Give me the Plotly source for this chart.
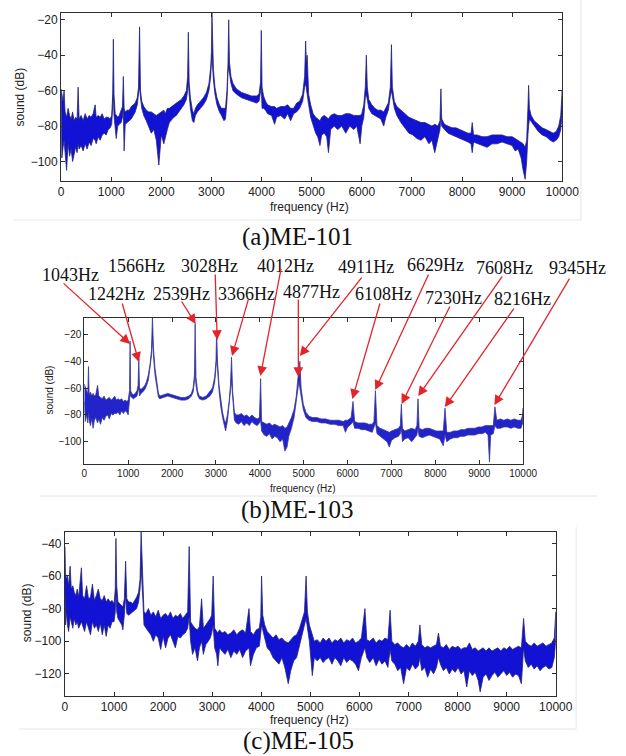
import plotly.graph_objects as go

# ---------------- (a) ME-101 : frequency (Hz), upper / lower envelope of trace (dB)
freq_a = [0, 15, 40, 60, 80, 110, 140, 170, 200, 230,
          260, 290, 320, 340, 360, 400, 440, 480, 520, 560,
          600, 640, 680, 700, 740, 780, 820, 860, 900, 940,
          980, 1010, 1030, 1043, 1056, 1080, 1100, 1130, 1160, 1200,
          1225, 1242, 1258, 1280, 1320, 1360, 1400, 1440, 1480, 1520,
          1545, 1566, 1585, 1610, 1650, 1700, 1750, 1800, 1850, 1900,
          1950, 2000, 2050, 2080, 2120, 2160, 2200, 2250, 2300, 2350,
          2400, 2450, 2500, 2525, 2539, 2555, 2580, 2620, 2650, 2680,
          2720, 2780, 2840, 2900, 2950, 2985, 3000, 3010, 3025, 3040,
          3070, 3110, 3160, 3200, 3250, 3280, 3310, 3330, 3345, 3360,
          3390, 3430, 3500, 3600, 3700, 3800, 3900, 3950, 3980, 3995,
          4010, 4040, 4080, 4120, 4200, 4260, 4300, 4380, 4460, 4520,
          4580, 4640, 4700, 4760, 4820, 4860, 4880, 4895, 4910, 4940,
          4980, 5030, 5080, 5120, 5166, 5200, 5250, 5300, 5335, 5380,
          5450, 5520, 5600, 5680, 5760, 5840, 5900, 5967, 6000, 6040,
          6070, 6091, 6110, 6140, 6200, 6260, 6320, 6380, 6438, 6480,
          6530, 6570, 6592, 6610, 6650, 6700, 6780, 6860, 6940, 7020,
          7100, 7180, 7260, 7340, 7400, 7456, 7520, 7560, 7579, 7595,
          7650, 7720, 7800, 7880, 7960, 8040, 8120, 8180, 8204, 8230,
          8300, 8400, 8500, 8600, 8700, 8800, 8900, 9000, 9060, 9120,
          9180, 9220, 9260, 9290, 9315, 9329, 9345, 9380, 9440, 9520,
          9600, 9680, 9760, 9820, 9880, 9930, 9970, 10000]
upper_a = [-59, -62, -66, -60, -72, -75, -70, -74, -76, -72,
           -77, -75, -76, -58, -76, -74, -77, -73, -76, -74,
           -75, -73, -68, -75, -74, -75, -73, -76, -75, -75,
           -76, -74, -62, -31, -62, -73, -74, -75, -74, -71,
           -69, -52, -70, -72, -71, -71, -69, -68, -67, -64,
           -58, -24, -60, -66, -69, -71, -72, -72, -73, -74,
           -73, -72, -71, -73, -70, -70, -69, -68, -67, -66,
           -65, -63, -60, -52, -27, -55, -64, -71, -73, -70,
           -68, -66, -64, -61, -56, -47, -38, -16, -30, -48,
           -58, -64, -68, -70, -70, -70, -60, -45, -20, -44,
           -52, -56, -59, -61, -62, -63, -63, -62, -55, -26,
           -58, -63, -66, -68, -69, -69, -70, -69, -69, -68,
           -70, -70, -67, -66, -62, -52, -32, -45, -40, -62,
           -68, -73, -75, -76, -77, -75, -74, -75, -76, -74,
           -73, -74, -74, -73, -73, -74, -74, -74, -73, -68,
           -58, -40, -58, -65, -68, -70, -71, -71, -72, -70,
           -67, -58, -34, -58, -66, -69, -71, -73, -75, -76,
           -77, -78, -78, -79, -80, -79, -80, -77, -59, -76,
           -79, -80, -81, -81, -82, -83, -84, -84, -78, -85,
           -85, -86, -86, -85, -85, -85, -86, -86, -87, -88,
           -89, -90, -92, -88, -70, -57, -70, -74, -77, -79,
           -81, -82, -83, -84, -83, -80, -74, -60]
lower_a = [-66, -98, -92, -88, -95, -105, -90, -97, -93, -100,
           -96, -92, -95, -90, -93, -91, -94, -90, -93, -89,
           -91, -87, -88, -90, -86, -88, -85, -84, -85, -82,
           -81, -79, -72, -62, -74, -82, -87, -80, -79, -78,
           -75, -70, -94, -79, -78, -77, -76, -74, -72, -68,
           -62, -58, -64, -70, -74, -77, -80, -84, -82, -88,
           -102, -85, -90, -86, -82, -78, -77, -75, -74, -72,
           -70, -68, -65, -60, -55, -62, -70, -77, -78, -74,
           -72, -70, -68, -65, -60, -52, -44, -40, -45, -54,
           -62, -68, -72, -74, -77, -76, -66, -50, -47, -50,
           -56, -60, -62, -64, -65, -66, -67, -66, -60, -58,
           -70, -70, -71, -73, -74, -79, -75, -74, -76, -73,
           -77, -73, -72, -70, -66, -58, -56, -60, -62, -68,
           -75, -80, -84, -86, -91, -85, -84, -86, -95, -82,
           -80, -82, -80, -84, -80, -82, -80, -90, -80, -75,
           -64, -62, -64, -70, -73, -74, -75, -76, -80, -75,
           -71, -63, -60, -63, -70, -74, -78, -81, -84, -85,
           -87, -88, -86, -90, -88, -95, -87, -82, -75, -80,
           -82, -84, -85, -86, -87, -88, -89, -90, -95, -89,
           -90, -91, -92, -90, -90, -89, -90, -91, -94, -93,
           -98, -105, -110, -100, -85, -80, -76, -78, -80, -83,
           -85, -86, -88, -89, -88, -86, -82, -72]

# ---------------- (b) ME-103
freq_b = [0, 20, 50, 80, 95, 110, 140, 170, 200, 230,
          260, 302, 330, 370, 410, 450, 490, 530, 570, 610,
          650, 690, 730, 770, 810, 850, 890, 930, 970, 1000,
          1030, 1043, 1056, 1080, 1120, 1160, 1200, 1225, 1242, 1258,
          1290, 1330, 1380, 1420, 1460, 1500, 1530, 1553, 1575, 1610,
          1650, 1690, 1720, 1800, 1900, 2000, 2100, 2200, 2300, 2380,
          2440, 2480, 2510, 2525, 2545, 2580, 2620, 2700, 2780, 2860,
          2920, 2970, 3000, 3015, 3035, 3070, 3110, 3150, 3190, 3220,
          3260, 3300, 3330, 3355, 3380, 3420, 3460, 3520, 3580, 3640,
          3700, 3760, 3820, 3880, 3940, 3990, 4018, 4040, 4100, 4160,
          4220, 4280, 4340, 4400, 4460, 4520, 4570, 4620, 4660, 4720,
          4780, 4830, 4870, 4890, 4911, 4940, 4990, 5050, 5120, 5200,
          5300, 5400, 5500, 5600, 5700, 5800, 5900, 5950, 6000, 6080,
          6123, 6160, 6240, 6320, 6400, 6480, 6560, 6600, 6634, 6670,
          6740, 6820, 6900, 6950, 7000, 7080, 7160, 7200, 7225, 7250,
          7300, 7380, 7460, 7540, 7580, 7604, 7630, 7700, 7780, 7860,
          7940, 8020, 8100, 8180, 8220, 8260, 8340, 8420, 8500, 8580,
          8660, 8740, 8820, 8900, 8980, 9060, 9140, 9200, 9233, 9260,
          9320, 9357, 9400, 9480, 9560, 9640, 9720, 9800, 9880, 9950,
          9990, 10000]
upper_b = [-57, -60, -62, -64, -44, -65, -63, -66, -64, -66,
           -65, -58, -66, -67, -68, -66, -69, -68, -67, -69,
           -68, -66, -69, -68, -69, -68, -70, -69, -70, -69,
           -62, -25, -62, -64, -65, -64, -62, -58, -38, -60,
           -61, -60, -58, -55, -50, -42, -32, -6, -30, -45,
           -56, -64, -66, -65, -64, -65, -66, -67, -67, -66,
           -64, -60, -50, -12, -52, -62, -66, -67, -66, -63,
           -60, -52, -40, -17, -40, -58, -70, -78, -84, -86,
           -80, -70, -58, -37, -62, -78, -80, -80, -79, -81,
           -80, -82, -80, -82, -83, -82, -53, -85, -86, -87,
           -86, -88, -87, -88, -89, -88, -90, -89, -86, -82,
           -76, -66, -52, -48, -40, -60, -72, -78, -81, -82,
           -82, -83, -83, -84, -84, -84, -85, -84, -84, -82,
           -70, -85, -86, -86, -86, -87, -87, -85, -62, -88,
           -90, -91, -92, -93, -92, -91, -90, -88, -72, -90,
           -92, -91, -90, -91, -88, -68, -90, -91, -90, -90,
           -91, -92, -92, -92, -75, -93, -93, -92, -92, -91,
           -91, -90, -90, -90, -89, -89, -88, -88, -88, -88,
           -88, -74, -84, -83, -84, -83, -84, -83, -84, -84,
           -80, -75]
lower_b = [-70, -85, -80, -86, -78, -84, -88, -83, -90, -84,
           -82, -86, -83, -87, -82, -84, -81, -80, -83, -79,
           -80, -79, -79, -78, -80, -77, -79, -77, -78, -80,
           -70, -64, -66, -67, -68, -67, -66, -62, -60, -66,
           -64, -63, -61, -58, -54, -46, -36, -24, -36, -50,
           -60, -67, -68, -67, -66, -67, -68, -69, -69, -68,
           -66, -63, -55, -48, -58, -65, -68, -69, -68, -66,
           -63, -56, -45, -38, -45, -62, -74, -82, -88, -92,
           -85, -74, -62, -55, -68, -84, -86, -87, -85, -88,
           -86, -88, -85, -87, -88, -86, -84, -92, -95, -96,
           -94, -98, -96, -97, -100, -98, -107, -104, -96, -90,
           -82, -72, -60, -55, -58, -66, -76, -82, -84, -85,
           -85, -86, -86, -87, -87, -88, -88, -93, -89, -87,
           -85, -90, -90, -91, -91, -92, -93, -90, -86, -94,
           -96, -98, -100, -104, -99, -97, -96, -94, -90, -100,
           -98, -97, -100, -97, -95, -90, -96, -97, -96, -95,
           -96, -97, -98, -103, -95, -100, -98, -97, -97, -96,
           -96, -95, -95, -95, -94, -94, -93, -95, -115, -95,
           -94, -88, -90, -90, -89, -89, -90, -89, -90, -90,
           -86, -84]

# labelled resonances of (b) and the dB level each arrow points at
peak_freq_b = [1043, 1242, 1566, 2539, 3028, 3366, 4012, 4877,
               4911, 6108, 6629, 7230, 7608, 8216, 9345]
peak_tip_db_b = [-27.2, -40.6, -7.0, -12.3, -24.2, -36.2, -51.1, -51.8,
                 -36.2, -68.2, -61.5, -71.9, -66.0, -74.2, -72.7]

# ---------------- (c) ME-105
freq_c = [0, 10, 30, 50, 75, 105, 130, 160, 190, 220,
          250, 280, 335, 360, 400, 440, 480, 520, 560, 600,
          640, 680, 720, 760, 800, 840, 880, 920, 960, 1000,
          1025, 1039, 1055, 1080, 1120, 1160, 1180, 1210, 1236, 1260,
          1300, 1340, 1380, 1420, 1460, 1500, 1530, 1552, 1570, 1590,
          1610, 1650, 1700, 1750, 1800, 1850, 1900, 1950, 2000, 2050,
          2100, 2150, 2200, 2250, 2300, 2350, 2400, 2450, 2500, 2531,
          2560, 2600, 2650, 2700, 2740, 2784, 2820, 2870, 2920, 2960,
          2990, 3020, 3050, 3090, 3115, 3150, 3200, 3260, 3320, 3380,
          3440, 3500, 3560, 3620, 3680, 3750, 3780, 3840, 3900, 3960,
          3990, 4006, 4030, 4070, 4120, 4180, 4240, 4300, 4360, 4420,
          4480, 4550, 4600, 4660, 4720, 4780, 4840, 4880, 4913, 4940,
          4980, 5040, 5080, 5140, 5200, 5260, 5320, 5380, 5440, 5500,
          5560, 5620, 5680, 5740, 5800, 5860, 5920, 5980, 6040, 6112,
          6150, 6210, 6280, 6340, 6400, 6460, 6520, 6580, 6625, 6660,
          6720, 6780, 6840, 6900, 6960, 7020, 7080, 7140, 7200, 7232,
          7270, 7330, 7390, 7450, 7510, 7570, 7610, 7650, 7710, 7770,
          7830, 7890, 7950, 8010, 8070, 8130, 8186, 8240, 8300, 8360,
          8420, 8460, 8520, 8580, 8640, 8700, 8760, 8820, 8880, 8940,
          9000, 9060, 9120, 9180, 9240, 9300, 9345, 9380, 9440, 9500,
          9560, 9620, 9680, 9740, 9800, 9860, 9920, 9970, 10000]
upper_c = [-42, -58, -62, -60, -66, -54, -68, -66, -70, -72,
           -68, -73, -55, -72, -74, -66, -74, -73, -65, -75,
           -72, -68, -74, -75, -72, -76, -74, -76, -75, -77,
           -68, -37, -66, -76, -77, -78, -79, -74, -51, -74,
           -76, -76, -77, -75, -73, -70, -62, -33, -48, -68,
           -82, -83, -80, -84, -82, -85, -81, -86, -84, -83,
           -85, -82, -86, -84, -85, -83, -86, -84, -82, -42,
           -88, -90, -92, -93, -91, -74, -92, -90, -88, -86,
           -84, -60, -92, -94, -95, -93, -95, -94, -96, -95,
           -93, -96, -94, -93, -95, -80, -94, -96, -93, -92,
           -85, -60, -84, -90, -94, -96, -98, -96, -99, -98,
           -100, -101, -99, -97, -96, -92, -86, -82, -60, -82,
           -90, -96, -100, -99, -101, -98, -100, -98, -101, -99,
           -100, -98, -101, -99, -100, -98, -101, -100, -98, -80,
           -99, -100, -98, -101, -99, -100, -98, -99, -81, -100,
           -102, -101, -103, -104, -102, -104, -101, -103, -100, -90,
           -102, -104, -103, -104, -103, -102, -95, -103, -104, -102,
           -105, -103, -104, -103, -105, -104, -104, -101, -105, -104,
           -106, -105, -104, -106, -104, -106, -105, -104, -106, -104,
           -105, -103, -105, -104, -103, -104, -86, -100, -102, -103,
           -101, -103, -102, -101, -103, -102, -101, -98, -82]
lower_c = [-70, -90, -82, -90, -94, -85, -88, -92, -86, -90,
           -88, -92, -88, -90, -94, -88, -92, -96, -88, -92,
           -90, -94, -89, -96, -90, -97, -90, -92, -88, -88,
           -82, -70, -82, -86, -88, -90, -93, -84, -72, -83,
           -84, -83, -82, -81, -80, -76, -68, -55, -58, -76,
           -90, -92, -94, -96, -100, -96, -98, -105, -97, -104,
           -98, -96, -100, -104, -97, -98, -96, -95, -92, -85,
           -100, -108, -104, -112, -104, -100, -108, -102, -100, -98,
           -95, -90, -104, -108, -115, -104, -106, -108, -105, -110,
           -106, -108, -105, -110, -106, -104, -115, -108, -104, -103,
           -95, -90, -92, -98, -104, -106, -110, -112, -114, -110,
           -116, -126, -118, -112, -110, -104, -95, -90, -86, -90,
           -100, -121, -110, -112, -110, -113, -111, -110, -114, -110,
           -112, -115, -110, -113, -111, -112, -114, -118, -110, -104,
           -110, -113, -110, -115, -111, -114, -112, -116, -105, -112,
           -114, -118, -116, -126, -116, -118, -114, -117, -115, -110,
           -118, -116, -122, -117, -120, -116, -110, -114, -118, -116,
           -120, -117, -119, -116, -120, -118, -128, -118, -121, -119,
           -124, -131, -122, -120, -124, -121, -119, -122, -120, -118,
           -121, -119, -122, -120, -121, -126, -104, -112, -116, -114,
           -117, -115, -118, -116, -115, -117, -116, -110, -100]

x_ticks = list(range(0, 10001, 1000))
x_tick_text = [str(v) for v in x_ticks]
y_ticks_a = [-100, -80, -60, -40, -20]
y_ticks_b = [-100, -80, -60, -40, -20]
y_ticks_c = [-120, -100, -80, -60, -40]
captions = ["(a)ME-101", "(b)ME-103", "(c)ME-105"]

for f, u, l in [(freq_a, upper_a, lower_a), (freq_b, upper_b, lower_b), (freq_c, upper_c, lower_c)]:
    assert len(f) == len(u) == len(l), (len(f), len(u), len(l))

# ---------------- layout helpers (pixel -> paper)
W, H = 626, 756
def PX(x):
    return x / W
def PY(y):
    return 1 - y / H

fig = go.Figure()

def add_band(f, up, lo, xa, ya, fill, edge):
    xs = list(f) + list(f)[::-1]
    ys = list(up) + list(lo)[::-1]
    fig.add_trace(go.Scatter(x=xs, y=ys, xaxis=xa, yaxis=ya, mode="lines",
                             fill="toself", fillcolor=fill,
                             line=dict(color=edge, width=0.8),
                             hoverinfo="skip", showlegend=False))

add_band(freq_a, upper_a, lower_a, "x", "y", "#1212d4", "#25257a")
add_band(freq_b, upper_b, lower_b, "x2", "y2", "#2323cc", "#3a3a96")
add_band(freq_c, upper_c, lower_c, "x3", "y3", "#1212d4", "#25257a")

def axis_style(size):
    return dict(showline=True, linecolor="#2e2e2e", linewidth=1, mirror="ticks",
                ticks="inside", ticklen=4, tickcolor="#2e2e2e", showgrid=False,
                zeroline=False,
                tickfont=dict(family="Liberation Sans, Arial, sans-serif", size=size, color="#222"))

def xaxis_style(size):
    d = axis_style(size)
    d.update(range=[0, 10000], tickvals=x_ticks, ticktext=x_tick_text)
    return d

fig.update_layout(
    width=W, height=H, autosize=False, margin=dict(l=0, r=0, t=0, b=0, pad=0),
    paper_bgcolor="white", plot_bgcolor="white", showlegend=False,
    xaxis=dict(domain=[PX(60), PX(577.7)], anchor="y", **xaxis_style(12)),
    yaxis=dict(domain=[PY(181), PY(12.7)], anchor="x", range=[-111, -16], tickvals=y_ticks_a, **axis_style(12)),
    xaxis2=dict(domain=[PX(84), PX(537.3)], anchor="y2", **xaxis_style(10)),
    yaxis2=dict(domain=[PY(464), PY(317.7)], anchor="x2", range=[-116.6, -7.6], tickvals=y_ticks_b, **axis_style(10)),
    xaxis3=dict(domain=[PX(64), PX(571)], anchor="y3", **xaxis_style(12)),
    yaxis3=dict(domain=[PY(696), PY(531.7)], anchor="x3", range=[-133.5, -32.9], tickvals=y_ticks_c, **axis_style(12)),
)

sans = "Liberation Sans, Arial, sans-serif"
serif = "Liberation Serif, Times New Roman, serif"

def text_at(x, y, s, size, family, angle=0, color="#222"):
    fig.add_annotation(x=PX(x), y=PY(y), xref="paper", yref="paper", text=s,
                       showarrow=False, xanchor="center", yanchor="middle",
                       textangle=angle, font=dict(family=family, size=size, color=color))

# axis titles
text_at(317, 207, "frequency (Hz)", 12, sans)
text_at(18, 97, "sound (dB)", 12, sans, angle=-90)
text_at(310, 488, "frequency (Hz)", 10, sans)
text_at(48, 390, "sound (dB)", 10, sans, angle=-90)
text_at(317, 720, "frequency (Hz)", 12, sans)
text_at(25, 613, "sound (dB)", 12, sans, angle=-90)

# subplot captions
for (cx, cy), cap in zip([(304, 237), (304, 510), (305, 741)], captions):
    text_at(cx, cy, cap, 25, serif, color="#111")

# clipped figure title at the top edge
text_at(127, -15, "图", 28, "Noto Sans CJK SC", color="#111")
text_at(341, -15, "不同模数的频谱示意图", 28, "Noto Sans CJK SC", color="#111")

# peak labels of (b)
label_pos_b = [(70, 275), (117, 294), (138, 266), (184, 294), (213, 266), (252, 294), (292, 266), (319, 292),
               (375, 267), (393, 294), (447, 265), (465, 298), (518, 268), (537, 299), (593, 268)]
arrow_tail_off_b = [(-68, -62), (-17, -60), (-7, -43), (-15, -24), (-2, -67), (17, -59), (21, -109), (0, -79),
                    (63, -80), (28, -97), (54, -117), (49, -99), (85, -121), (70, -100), (76, -128)]
for f, tip, (lx, ly), (ox, oy) in zip(peak_freq_b, peak_tip_db_b, label_pos_b, arrow_tail_off_b):
    text_at(lx, ly, f"{f}Hz", 18, serif, color="#111")
    fig.add_annotation(x=f, y=tip, xref="x2", yref="y2", ax=ox, ay=oy,
                       axref="pixel", ayref="pixel", text="", showarrow=True,
                       arrowhead=2, arrowsize=1.5, arrowwidth=1.3,
                       arrowcolor="#e3242b", standoff=0)

# faint borders of the pasted screenshots
border = dict(color="#e6e6e6", width=1)
for x0, y0, x1, y1 in [(11, 220, 597, 220), (597, 0, 597, 220), (38, 496, 614, 496),
                       (17, 729, 592, 729), (592, 527, 592, 729)]:
    fig.add_shape(type="line", xref="paper", yref="paper", x0=PX(x0), y0=PY(y0),
                  x1=PX(x1), y1=PY(y1), line=border, layer="below")

fig.write_html("out.html",
               config={"responsive": False, "displayModeBar": False, "staticPlot": True},
               post_script="document.body.style.margin='0';document.body.style.overflow='hidden';")
